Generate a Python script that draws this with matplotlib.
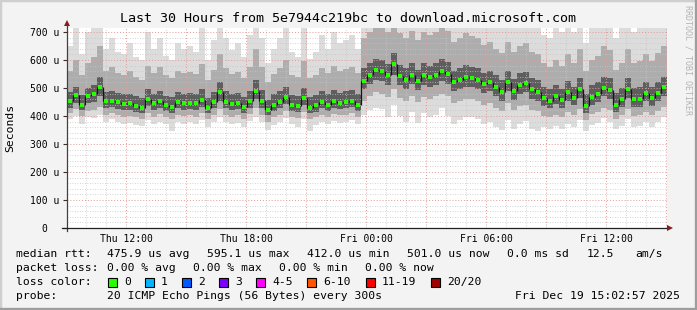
import matplotlib
matplotlib.use("Agg")
import matplotlib.pyplot as plt
import numpy as np
from matplotlib.lines import Line2D
from matplotlib.patches import Rectangle

W, H = 697, 310

# one sample every 18 min, first sample at Thu 09:03 (hours since Thu 00:00)
t_start = 9.05
step_h = 0.3

median = [453, 476, 440, 471, 477, 505, 452, 455, 451, 442, 445, 436, 428, 460, 445, 455, 439, 432,
          451, 445, 446, 445, 458, 430, 450, 485, 450, 443, 448, 432, 455, 490, 455, 420,
          440, 450, 468, 440, 436, 465, 430, 438, 450, 440, 455, 446, 450, 455, 440, 525, 548,
          565, 560, 545, 585, 543, 530, 548, 525, 545, 538, 545, 560, 550, 520, 530, 540,
          535, 530, 515, 520, 505, 487, 520, 490, 510, 517, 495, 487, 465, 455, 472, 458, 485,
          465, 495, 436, 469, 480, 500, 493, 440, 460, 495, 460, 460, 481, 463, 483, 502]

q1 = [430, 448, 420, 445, 450, 470, 428, 432, 425, 420, 422, 415, 410, 435, 420, 430, 418, 410,
      428, 422, 425, 420, 432, 410, 428, 455, 428, 420, 425, 412, 430, 460, 430, 402,
      418, 428, 442, 418, 415, 440, 410, 416, 428, 418, 430, 424, 428, 432, 418, 495, 515,
      530, 525, 512, 548, 510, 498, 515, 492, 512, 505, 512, 525, 515, 488, 498, 505,
      502, 498, 482, 488, 472, 455, 488, 458, 478, 485, 462, 455, 435, 428, 442, 430, 455,
      438, 465, 410, 440, 450, 470, 462, 415, 432, 465, 432, 432, 452, 435, 455, 472]

q3 = [485, 505, 475, 500, 510, 540, 485, 490, 482, 478, 480, 470, 465, 495, 478, 490, 472, 468,
      485, 480, 482, 478, 495, 465, 485, 520, 488, 478, 482, 468, 490, 530, 492, 458,
      478, 488, 505, 475, 472, 500, 468, 475, 488, 478, 492, 482, 488, 492, 478, 570, 590,
      605, 600, 585, 625, 582, 570, 590, 565, 588, 580, 588, 602, 592, 560, 572, 582,
      575, 572, 555, 560, 545, 530, 560, 532, 552, 558, 535, 528, 505, 495, 512, 498, 525,
      505, 535, 478, 510, 520, 540, 535, 482, 500, 535, 500, 502, 520, 505, 522, 540]

p10 = [410, 425, 400, 418, 420, 432, 405, 412, 402, 398, 400, 395, 390, 412, 398, 408, 395, 388,
       405, 400, 402, 398, 410, 390, 405, 425, 405, 398, 402, 390, 408, 430, 405, 380,
       395, 405, 418, 396, 392, 415, 388, 395, 405, 396, 408, 402, 405, 410, 398, 455, 470,
       485, 480, 468, 495, 465, 455, 470, 450, 468, 462, 470, 480, 470, 448, 455, 462,
       460, 455, 440, 445, 430, 418, 445, 420, 435, 440, 422, 418, 400, 395, 405, 398, 415,
       405, 425, 385, 408, 415, 430, 422, 390, 402, 425, 400, 402, 415, 402, 418, 432]

lo = [388, 400, 372, 395, 392, 405, 380, 390, 378, 372, 375, 368, 365, 385, 372, 380, 370, 345,
      380, 372, 378, 370, 385, 362, 378, 395, 380, 370, 376, 362, 382, 398, 378, 350,
      368, 378, 392, 370, 362, 388, 345, 368, 380, 370, 382, 375, 378, 385, 372, 405, 420,
      430, 425, 395, 440, 400, 380, 415, 375, 410, 395, 405, 428, 400, 372, 385, 398,
      395, 388, 370, 378, 360, 350, 385, 355, 372, 382, 355, 345, 360, 352, 365, 355, 372,
      362, 385, 345, 368, 375, 392, 380, 352, 365, 388, 362, 365, 378, 362, 380, 395]

p90 = [560, 600, 545, 590, 610, 650, 560, 575, 555, 548, 560, 540, 530, 580, 555, 575, 545, 535,
       560, 552, 558, 550, 585, 530, 565, 620, 570, 550, 558, 535, 575, 640, 575, 520,
       550, 570, 600, 548, 540, 595, 535, 548, 570, 552, 580, 560, 568, 575, 552, 680, 700,
       714, 714, 700, 714, 695, 680, 705, 670, 700, 690, 700, 714, 705, 665, 680, 695,
       685, 680, 655, 665, 640, 625, 665, 630, 650, 660, 630, 620, 590, 575, 600, 580, 620,
       590, 640, 560, 600, 615, 650, 635, 565, 590, 640, 590, 595, 620, 595, 625, 650]

hi = [650, 714, 620, 700, 714, 714, 640, 680, 630, 620, 660, 610, 600, 700, 640, 680, 615, 600,
      660, 640, 650, 630, 714, 600, 670, 714, 680, 635, 660, 610, 690, 714, 680, 590,
      640, 680, 714, 630, 610, 714, 605, 630, 690, 640, 700, 660, 670, 690, 640, 714, 714,
      714, 714, 714, 714, 714, 714, 714, 714, 714, 714, 714, 714, 714, 714, 714, 714,
      714, 714, 714, 714, 714, 714, 714, 714, 714, 714, 714, 714, 690, 680, 714, 700, 714,
      700, 714, 660, 714, 714, 714, 714, 680, 714, 714, 700, 714, 714, 714, 714, 714]

xtick_pos = [12, 18, 24, 30, 36]
xtick_labels = ["Thu 12:00", "Thu 18:00", "Fri 00:00", "Fri 06:00", "Fri 12:00"]
ytick_pos = [0, 100, 200, 300, 400, 500, 600, 700]
ytick_labels = ["0", "100 u", "200 u", "300 u", "400 u", "500 u", "600 u", "700 u"]

loss_labels = ["0", "1", "2", "3", "4-5", "6-10", "11-19", "20/20"]
loss_colors = ["#26ff00", "#00b8ff", "#0059ff", "#7e00ff", "#ff00ff", "#ff5500", "#ff0000", "#a10000"]
loss_box_x = [108, 145, 182, 219, 256, 307, 366, 431]


def px(x, y):
    return x / W, 1 - y / H


mono = "DejaVu Sans Mono"
bg = "#f3f3f3"

fig = plt.figure(figsize=(W / 100, H / 100), dpi=100, facecolor=bg)
l, b = px(67, 228)
r, t = px(667, 28)
ax = fig.add_axes([l, b, r - l, t - b])
ax.set_facecolor("white")

n = len(median)
edges = t_start + step_h * np.arange(n + 1)


def ext(a):
    a = np.asarray(a, dtype=float)
    return np.append(a, a[-1])


ax.fill_between(edges, ext(lo), ext(hi), step="post", color="#dcdcdc", lw=0)
ax.fill_between(edges, ext(p10), ext(p90), step="post", color="#adadad", lw=0)
ax.fill_between(edges, ext(q1), ext(q3), step="post", color="#5e5e5e", lw=0)

# grid on top of the smoke, like rrdtool
for h in np.arange(10, 40, 1):
    if h % 3:
        ax.axvline(h, color="#c4c4c4", lw=0.6, ls=(0, (1, 2)), zorder=3)
for h in np.arange(12, 40, 3):
    ax.axvline(h, color="#e39a9a", lw=0.7, ls=(0, (1, 2)), zorder=3)
for v in range(20, 720, 20):
    if v % 100:
        ax.axhline(v, color="#c4c4c4", lw=0.6, ls=(0, (1, 2)), zorder=3)
for v in range(100, 800, 100):
    ax.axhline(v, color="#e39a9a", lw=0.7, ls=(0, (1, 2)), zorder=3)

# median: dark jumps between samples, green dot per sample
ax.vlines(edges[1:-1], median[:-1], median[1:], color="#151515", lw=0.9, zorder=4)
ax.plot(edges[:-1] + step_h / 2, median, "s", color="#26ff00", ms=2.2, mew=0, zorder=5)

ax.set_xlim(t_start, t_start + 30)
ax.set_ylim(0, 714.3)
for s in ax.spines.values():
    s.set_visible(False)

ax.set_xticks(xtick_pos, xtick_labels, fontfamily=mono, fontsize=7)
ax.set_yticks(ytick_pos, ytick_labels, fontfamily=mono, fontsize=7)
ax.tick_params(axis="x", length=0, pad=4)
ax.tick_params(axis="y", length=3, width=0.8, pad=13, color="#333333")
for lab in ax.get_yticklabels():
    lab.set_horizontalalignment("center")

# axis lines with arrows
fig.add_artist(Line2D([67 / W, 67 / W], [1 - 231 / H, 1 - 24 / H], color="#404040", lw=0.9))
fig.add_artist(Line2D([62 / W, 668 / W], [1 - 228 / H, 1 - 228 / H], color="#202020", lw=0.9))
fig.add_artist(Line2D([67 / W], [1 - 23 / H], marker="^", ms=4.5, color="#8b1a1a", mew=0))
fig.add_artist(Line2D([670 / W], [1 - 228 / H], marker=">", ms=4.5, color="#8b1a1a", mew=0))

# frame
fig.add_artist(Rectangle((0, 0), 1, 1, transform=fig.transFigure, fill=False,
                         ec="#cfcfcf", lw=2.5))
fig.add_artist(Line2D([1 - 1.2 / W, 1 - 1.2 / W], [0, 1], color="#9e9e9e", lw=2.4))
fig.add_artist(Line2D([0, 1], [1.2 / H, 1.2 / H], color="#9e9e9e", lw=2.4))

fig.text(*px(348.5, 19), "Last 30 Hours from 5e7944c219bc to download.microsoft.com",
         fontfamily=mono, fontsize=9.6, ha="center", va="center")
fig.text(*px(10, 128), "Seconds", fontfamily=mono, fontsize=8.2, rotation=90,
         ha="center", va="center")
fig.text(*px(688, 60), "RRDTOOL / TOBI OETIKER", fontfamily=mono, fontsize=6,
         rotation=270, ha="center", va="center", color="#b4b4b4")

fs = 8.2
rows = [
    (254, [(16, "median rtt:"), (107, "475.9 us avg"), (207, "595.1 us max"),
           (307, "412.0 us min"), (407, "501.0 us now"), (507, "0.0 ms sd"),
           (587, "12.5"), (635, "am/s")]),
    (268, [(16, "packet loss:"), (107, "0.00 % avg"), (193, "0.00 % max"),
           (279, "0.00 % min"), (365, "0.00 % now")]),
    (282, [(16, "loss color:")]),
    (296, [(16, "probe:"), (107, "20 ICMP Echo Pings (56 Bytes) every 300s")]),
]
for y, items in rows:
    for x, s in items:
        fig.text(*px(x, y), s, fontfamily=mono, fontsize=fs, ha="left", va="center")
fig.text(*px(680, 296), "Fri Dec 19 15:02:57 2025", fontfamily=mono, fontsize=fs,
         ha="right", va="center")

for x, c, s in zip(loss_box_x, loss_colors, loss_labels):
    x0, y0 = px(x, 286.5)
    fig.add_artist(Rectangle((x0, y0), 8.5 / W, 8.5 / H, transform=fig.transFigure,
                             fc=c, ec="black", lw=0.8))
    fig.text(*px(x + 16, 282), s, fontfamily=mono, fontsize=fs, ha="left", va="center")

fig.savefig("out.png", dpi=100, facecolor=bg)
